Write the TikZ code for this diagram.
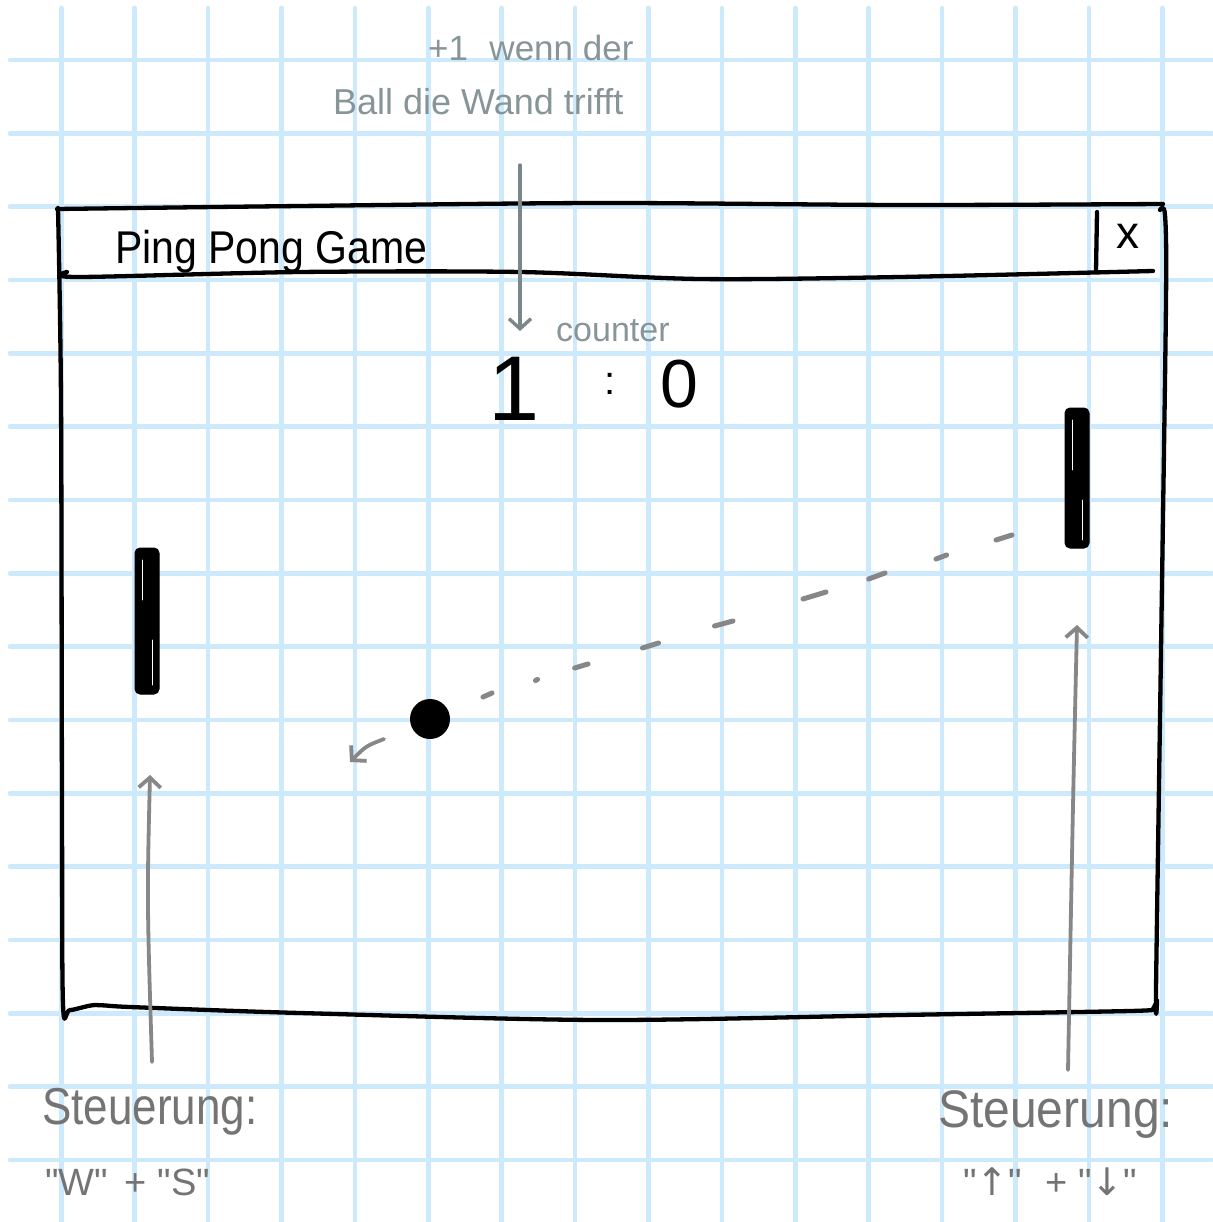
\documentclass[tikz,border=0pt]{standalone}
\usepackage{fontspec}
\setmainfont{Liberation Sans}
\newfontfamily\arrowfont{DejaVu Sans}
\newfontfamily\keyfont{Liberation Sans}
\usetikzlibrary{arrows.meta}
\definecolor{gridblue}{HTML}{CCEAFB}
\definecolor{notegrey}{HTML}{879599}
\definecolor{ctrlgrey}{HTML}{747474}
\definecolor{arrowgrey}{HTML}{878787}
\begin{document}
\begin{tikzpicture}[x=1pt,y=-1pt,line cap=round,line join=round,
  gridline/.style={gridblue,line width=4.5pt},
  frame/.style={black,line width=4.3pt},
  note/.style={text=notegrey,inner sep=0pt,anchor=base west},
  ctrl/.style={text=ctrlgrey,inner sep=0pt,anchor=base west},
  ink/.style={text=black,inner sep=0pt},
  paddle/.style={fill=black,draw=black,line width=1pt,rounded corners=5pt,minimum width=24pt,inner sep=0pt},
  pointer/.style={arrowgrey,line width=3.8pt,-{Straight Barb[length=10pt,width=22pt,line width=3.8pt]}},
  notepointer/.style={notegrey!90!black,line width=3.4pt,-{Straight Barb[length=10pt,width=22pt,line width=3.4pt]}},
  trail/.style={arrowgrey,line width=5pt}]
\useasboundingbox (0,0) rectangle (1212,1222);
\fill[white] (0,0) rectangle (1212,1222);
% grid paper
\foreach \i in {0,...,15}{
  \draw[gridline] ({61.3+73.4*\i},8) -- ({61.3+73.4*\i},1222);
  \draw[gridline] (10,{60+73.33*\i}) -- (1212,{60+73.33*\i});
}
% window frame
\draw[frame] plot[smooth] coordinates {(57,209)(300,206)(600,203)(900,205)(1163,204)};
\draw[frame] plot[smooth] coordinates {(67,272)(78,277)(300,272)(520,272)(700,279)(900,277)(1153,271)};
\draw[frame] plot[smooth] coordinates {(58,208)(61,400)(62,800)(63,1004)(70,1010)(95,1005)(130,1007)(300,1013)(600,1020)(900,1015)(1130,1011)(1153,1009)};
\draw[frame] plot[smooth] coordinates {(1160,210)(1165,215)(1166,300)(1161,650)(1156,990)(1157,1000)(1153,1009)};
\draw[frame] (1097,212) -- (1096,271);
% title bar texts
\node[ink,anchor=base west,font=\fontsize{41}{44}\selectfont] (title) at (115,264) {\scalebox{1}[1.12]{Ping Pong Game}};
\node[ink,font=\fontsize{46}{48}\selectfont] (closex) at (1128,236) {x};
% score
\node[ink,anchor=base,font=\fontsize{92}{96}\selectfont] (score1) at (514,420) {1};
\node[ink,anchor=base,font=\fontsize{40}{44}\selectfont] (colon) at (610,394) {:};
\node[ink,anchor=base,font=\fontsize{68}{72}\selectfont] (score0) at (679,407) {0};
\node[note,font=\fontsize{34}{36}\selectfont] (counterlbl) at (556,341) {counter};
% annotation at top
\node[note,font=\fontsize{35}{38}\selectfont] (note1) at (428,61) {+1\,\, wenn der};
\node[note,font=\fontsize{36}{40}\selectfont] (note2) at (333,115) {Ball die Wand trifft};
\coordinate (noteend) at (520,165);
\coordinate (counterpt) at (520,331);
\draw[notepointer] (noteend) -- (counterpt);
% paddles and ball
\node[paddle,minimum height=146pt] (padL) at (147,621) {};
\node[paddle,minimum height=140pt] (padR) at (1077,478) {};
\draw[white,line width=0.6pt] (142,560) -- (142,600) (152,640) -- (152,685) (1072,420) -- (1072,470) (1082,500) -- (1082,540);
\node[circle,fill=black,minimum size=40pt,inner sep=0pt] (ball) at (430,719) {};
% ball trail
\draw[trail] (483,697) -- (492,693);
\draw[trail] (535.5,680.5) -- (537.5,679.5);
\draw[trail] (574.6,668) -- (588,664);
\draw[trail] (642.5,648) -- (658.5,643);
\draw[trail] (714.5,626) -- (733,621);
\draw[trail] (803,599) -- (826,592);
\draw[trail] (868.6,579) -- (885,573);
\draw[trail] (936,559) -- (946.6,555);
\draw[trail] (996,540) -- (1012,535);
% ball direction
\coordinate (balldirA) at (384,739);
\coordinate (balldirB) at (350,762);
\draw[pointer] (balldirA) .. controls (366,746) .. (balldirB);
% controls
\node[ctrl,font=\fontsize{44}{48}\selectfont] (ctrlL) at (42,1124) {\scalebox{1}[1.18]{Steuerung:}};
\node[ctrl,font=\keyfont\fontsize{38}{40}\selectfont] (keysL) at (45,1195) {"W"\, + "S"};
\node[ctrl,font=\fontsize{48}{52}\selectfont] (ctrlR) at (938,1127) {\scalebox{1}[1.1]{Steuerung:}};
\node[ctrl,font=\keyfont\fontsize{38}{40}\selectfont] (keysR) at (963,1195) {"{\arrowfont ↑}"\,\, + "{\arrowfont ↓}"};
\coordinate (ctrlLtop) at (152,1062);
\coordinate (padLbelow) at (150,775);
\coordinate (ctrlRtop) at (1068,1070);
\coordinate (padRbelow) at (1077,625);
\draw[pointer] (ctrlLtop) .. controls (147,900) .. (padLbelow);
\draw[pointer] (ctrlRtop) .. controls (1073,800) .. (padRbelow);
\end{tikzpicture}
\end{document}
